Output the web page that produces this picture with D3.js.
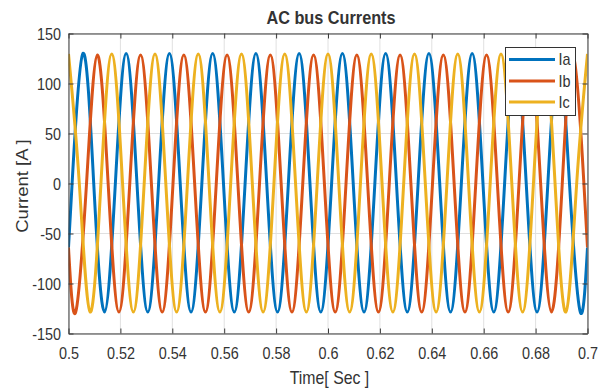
<!DOCTYPE html>
<html>
<head>
<meta charset="utf-8">
<script src="https://cdn.jsdelivr.net/npm/d3@7"></script>
<style>
  body { margin: 0; background: #fff; }
  text { font-family: "Liberation Sans", Arial, Helvetica, sans-serif; fill: #333; }
</style>
</head>
<body>
<svg id="chart" width="598" height="390"></svg>
<script>
// ---- data ----------------------------------------------------------
const timeStart = 0.5;
const timeEnd = 0.7;
const quarterCycle = 1 / 240;          // key points every quarter cycle (60 Hz)

const seriesNames = ["Ia", "Ib", "Ic"];
const seriesColors = ["#0072BD", "#D95319", "#EDB120"];

// time of the first key point (zero crossing / peak / trough) of each phase
const iaFirstTime = 0.5 + 1 / 720;
const ibFirstTime = 0.5 + 2 / 720;
const icFirstTime = 0.5;

// values at the window edges [t = 0.5, t = 0.7]
const iaEdgeValues = [-64, -64];
const ibEdgeValues = [-64, -64];

// current at successive key points, in A
const iaValues = [
  0, 130, 0, -128.5,  0, 130, 0, -128.5,  0, 130, 0, -128.5,
  0, 130, 0, -128.5,  0, 130, 0, -128.5,  0, 130, 0, -128.5,
  0, 130, 0, -128.5,  0, 130, 0, -128.5,  0, 130, 0, -128.5,
  0, 130, 0, -128.5,  0, 130, 0, -128.5,  0, 130, 0, -128.5
];
const ibValues = [
  -128.5, 0, 128.5, 0,  -128.5, 0, 128.5, 0,  -128.5, 0, 128.5, 0,
  -128.5, 0, 128.5, 0,  -128.5, 0, 128.5, 0,  -128.5, 0, 128.5, 0,
  -128.5, 0, 128.5, 0,  -128.5, 0, 128.5, 0,  -128.5, 0, 128.5, 0,
  -128.5, 0, 128.5, 0,  -128.5, 0, 128.5, 0,  -128.5, 0, 128.5, 0
];
const icValues = [
  129.5, 0, -128.5, 0,  129.5, 0, -128.5, 0,  129.5, 0, -128.5, 0,
  129.5, 0, -128.5, 0,  129.5, 0, -128.5, 0,  129.5, 0, -128.5, 0,
  129.5, 0, -128.5, 0,  129.5, 0, -128.5, 0,  129.5, 0, -128.5, 0,
  129.5, 0, -128.5, 0,  129.5, 0, -128.5, 0,  129.5, 0, -128.5, 0,
  129.5
];

const xTickValues = [0.5, 0.52, 0.54, 0.56, 0.58, 0.6, 0.62, 0.64, 0.66, 0.68, 0.7];
const xTickLabels = ["0.5", "0.52", "0.54", "0.56", "0.58", "0.6", "0.62", "0.64", "0.66", "0.68", "0.7"];
const yTickValues = [-150, -100, -50, 0, 50, 100, 150];
const yTickLabels = ["-150", "-100", "-50", "0", "50", "100", "150"];

const titleText = "AC bus Currents";
const xLabelText = "Time[ Sec ]";
const yLabelText = "Current [A ]";

// ---- build point lists ------------------------------------------------
function buildSeries(firstTime, values, edges) {
  const pts = [];
  if (edges && firstTime > timeStart) pts.push([timeStart, edges[0]]);
  values.forEach((v, i) => pts.push([firstTime + i * quarterCycle, v]));
  const last = pts[pts.length - 1][0];
  if (edges && last < timeEnd - 1e-9) pts.push([timeEnd, edges[1]]);
  return pts;
}
const seriesPoints = [
  buildSeries(iaFirstTime, iaValues, iaEdgeValues),
  buildSeries(ibFirstTime, ibValues, ibEdgeValues),
  buildSeries(icFirstTime, icValues, null)
];

// ---- layout ---------------------------------------------------------
const plotLeft = 68.5, plotRight = 587.5, plotTop = 33.5, plotBottom = 333.5;
const squash = 0.9; // horizontal text scale

const svg = d3.select("#chart");
const x = d3.scaleLinear().domain([timeStart, timeEnd]).range([plotLeft, plotRight]);
const y = d3.scaleLinear().domain([-150, 150]).range([plotBottom, plotTop]);

// grid
const grid = svg.append("g").attr("stroke", "#e0e0e0").attr("stroke-width", 1);
grid.selectAll("line.gx").data(xTickValues).join("line").attr("class", "gx")
  .attr("x1", d => x(d)).attr("x2", d => x(d)).attr("y1", plotTop).attr("y2", plotBottom);
grid.selectAll("line.gy").data(yTickValues).join("line").attr("class", "gy")
  .attr("x1", plotLeft).attr("x2", plotRight).attr("y1", d => y(d)).attr("y2", d => y(d));

// clip for the traces
svg.append("clipPath").attr("id", "plotClip").append("rect")
  .attr("x", plotLeft).attr("y", plotTop)
  .attr("width", plotRight - plotLeft).attr("height", plotBottom - plotTop);

const line = d3.line().x(d => x(d[0])).y(d => y(d[1])).curve(d3.curveNatural);

svg.append("g").attr("clip-path", "url(#plotClip)")
  .selectAll("path").data(seriesPoints).join("path")
  .attr("d", line)
  .attr("fill", "none")
  .attr("stroke", (d, i) => seriesColors[i])
  .attr("stroke-width", 3)
  .attr("stroke-linejoin", "round");

// axes (ticks pointing inward)
const axisColor = "#3a3a3a";
function styleAxis(g) {
  g.select(".domain").attr("stroke", axisColor);
  g.selectAll(".tick line").attr("stroke", axisColor);
  g.selectAll(".tick text").style("font-size", "16px").attr("fill", "#3a3a3a");
}

const xAxis = svg.append("g").attr("transform", `translate(0,${plotBottom})`)
  .call(d3.axisBottom(x).tickValues(xTickValues)
    .tickFormat((d, i) => xTickLabels[i]).tickSizeInner(-5).tickSizeOuter(0).tickPadding(8));
styleAxis(xAxis);
xAxis.selectAll(".tick text").attr("y", 0).attr("dy", 0)
  .attr("transform", `translate(0,25) scale(${squash},1)`);

const yAxis = svg.append("g").attr("transform", `translate(${plotLeft},0)`)
  .call(d3.axisLeft(y).tickValues(yTickValues)
    .tickFormat((d, i) => yTickLabels[i]).tickSizeInner(-5).tickSizeOuter(0));
styleAxis(yAxis);
yAxis.selectAll(".tick text").attr("x", 0).attr("dy", "0.36em")
  .attr("transform", `translate(-7.5,0) scale(${squash},1)`);

const xTopAxis = svg.append("g").attr("transform", `translate(0,${plotTop})`)
  .call(d3.axisTop(x).tickValues(xTickValues).tickFormat("").tickSizeInner(-5).tickSizeOuter(0));
styleAxis(xTopAxis);
const yRightAxis = svg.append("g").attr("transform", `translate(${plotRight},0)`)
  .call(d3.axisRight(y).tickValues(yTickValues).tickFormat("").tickSizeInner(-5).tickSizeOuter(0));
styleAxis(yRightAxis);

// title and axis labels
svg.append("text")
  .attr("transform", `translate(331,24) scale(${squash + 0.03},1)`)
  .attr("text-anchor", "middle")
  .style("font-size", "17.5px").style("font-weight", "bold").attr("fill", "#111")
  .text(titleText);

svg.append("text")
  .attr("transform", `translate(329.5,383.5) scale(0.88,1)`)
  .attr("text-anchor", "middle")
  .style("font-size", "18px").attr("fill", "#3a3a3a")
  .text(xLabelText);

svg.append("text")
  .attr("transform", `translate(28,186) scale(${squash},1) rotate(-90)`)
  .attr("text-anchor", "middle")
  .style("font-size", "18.5px").attr("fill", "#3a3a3a")
  .text(yLabelText);

// legend
const legend = svg.append("g");
legend.append("rect")
  .attr("x", 505.5).attr("y", 47.5).attr("width", 70).attr("height", 68)
  .attr("fill", "#fff").attr("stroke", "#333").attr("stroke-width", 1);
const legendRows = [59.5, 81, 102];
seriesNames.forEach((name, i) => {
  legend.append("line")
    .attr("x1", 509).attr("x2", 555).attr("y1", legendRows[i]).attr("y2", legendRows[i])
    .attr("stroke", seriesColors[i]).attr("stroke-width", 3);
  legend.append("text")
    .attr("transform", `translate(558.5,${legendRows[i] + 5.8}) scale(${squash},1)`)
    .style("font-size", "16px").attr("fill", "#222")
    .text(name);
});
</script>
</body>
</html>
